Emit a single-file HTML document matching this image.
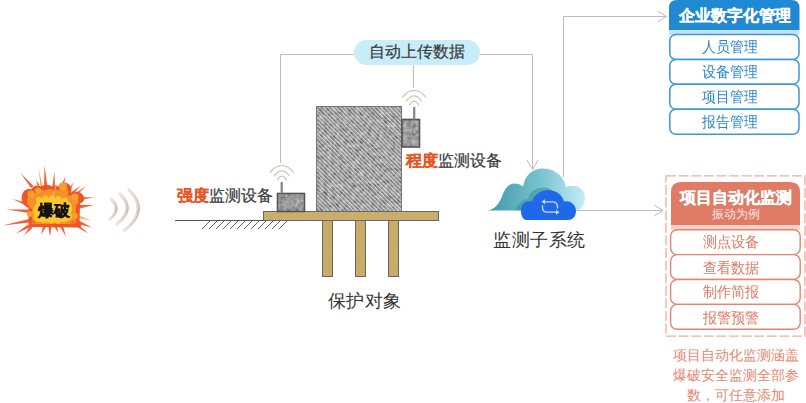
<!DOCTYPE html>
<html><head><meta charset="utf-8">
<style>
*{margin:0;padding:0;box-sizing:border-box}
html,body{width:806px;height:403px;overflow:hidden;background:#fff;font-family:"Liberation Sans",sans-serif}
.a{position:absolute;white-space:nowrap}
svg{position:absolute;left:0;top:0}
.t16{font-size:16px;line-height:16px;color:#3a3a3a;-webkit-text-stroke:0.2px #3a3a3a}
.red{color:#e9541f;font-weight:bold;-webkit-text-stroke:0.15px #e9541f}
.pill{left:354px;top:40px;width:126px;height:25px;border-radius:13px;background:#c7edf8}
.bt{left:669px;width:131px;padding-right:9px;transform:scaleY(1.08);transform-origin:50% 90%;text-align:center;color:#2a86d0;font-size:14.2px;line-height:15px}
.ot{left:670px;width:131px;padding-right:9px;transform:scaleY(1.06);transform-origin:50% 90%;text-align:center;color:#e07a64;font-size:14.2px;line-height:15px}
.bh{top:0;height:30px;background:#1e88d2;border-radius:8px 8px 0 0}
.bs{top:30px;height:5px;background:#c5e0f4}
.bi{height:25px;border:1.5px solid #3d97d8;border-radius:7px;background:#fff;color:#2a86d0;font-size:14.5px;line-height:22px;text-align:center;padding-right:8px}
.oh{left:671px;width:130px;top:182px;height:43px;background:#e07a64;border-radius:9px 9px 0 0}
.os{left:671px;width:130px;top:225px;height:5px;background:#f5cfc4}
.oi{left:670px;width:131px;height:25px;border:1.5px solid #e4836e;border-radius:7px;background:#fff;color:#e07a64;font-size:14.5px;line-height:22px;text-align:center;padding-right:8px}
</style></head><body>
<svg width="806" height="403" viewBox="0 0 806 403">
<defs>
<linearGradient id="cg" x1="0" x2="1" y1="0" y2="0">
<stop offset="0" stop-color="#3f98a8"/><stop offset="0.55" stop-color="#79c3d0"/><stop offset="1" stop-color="#c2eef6"/>
</linearGradient>
<pattern id="hatch" patternUnits="userSpaceOnUse" patternTransform="rotate(-45)" width="2.9" height="4">
<rect width="2.9" height="4" fill="#9c9c9c"/><rect width="1.2" height="4" fill="#565656"/><rect x="1.8" width="0.9" height="4" fill="#e8e8e8"/>
</pattern>
<filter id="noise" x="0" y="0" width="100%" height="100%">
<feTurbulence type="fractalNoise" baseFrequency="0.35" numOctaves="2" seed="3" result="n"/>
<feColorMatrix in="n" type="matrix" values="0 0 0 0 0.5  0 0 0 0 0.5  0 0 0 0 0.5  1.2 0 0 0 -0.35" result="g"/>
<feComposite in="g" in2="SourceGraphic" operator="in" result="gi"/>
<feBlend in="SourceGraphic" in2="gi" mode="overlay"/>
</filter>
<filter id="noise2" x="0" y="0" width="100%" height="100%">
<feTurbulence type="fractalNoise" baseFrequency="0.25" numOctaves="3" seed="11" result="n"/>
<feColorMatrix in="n" type="matrix" values="0 0 0 1.4 -0.2  0 0 0 1.4 -0.2  0 0 0 1.4 -0.2  0 0 0 0 0.35" result="g"/>
<feComposite in="g" in2="SourceGraphic" operator="in" result="gi"/>
<feMerge><feMergeNode in="SourceGraphic"/><feMergeNode in="gi"/></feMerge>
</filter>
<linearGradient id="wood" x1="0" x2="0" y1="0" y2="1">
<stop offset="0" stop-color="#cfae66"/><stop offset="1" stop-color="#c09a52"/>
</linearGradient>
<filter id="noise3" x="0" y="0" width="100%" height="100%">
<feTurbulence type="fractalNoise" baseFrequency="0.08 0.6" numOctaves="2" seed="5" result="n"/>
<feColorMatrix in="n" type="matrix" values="0 0 0 0 0.55  0 0 0 0 0.42  0 0 0 0 0.18  1.6 0 0 0 -0.55" result="g"/>
<feComposite in="g" in2="SourceGraphic" operator="in" result="gi"/>
<feMerge><feMergeNode in="SourceGraphic"/><feMergeNode in="gi"/></feMerge>
</filter>
<filter id="noise4" x="0" y="0" width="100%" height="100%">
<feTurbulence type="fractalNoise" baseFrequency="0.6 0.08" numOctaves="2" seed="9" result="n"/>
<feColorMatrix in="n" type="matrix" values="0 0 0 0 0.55  0 0 0 0 0.42  0 0 0 0 0.18  1.6 0 0 0 -0.55" result="g"/>
<feComposite in="g" in2="SourceGraphic" operator="in" result="gi"/>
<feMerge><feMergeNode in="SourceGraphic"/><feMergeNode in="gi"/></feMerge>
</filter>
</defs>
<!-- connector lines -->
<g fill="none" stroke="#bdbdbd" stroke-width="1">
<polyline points="280.5,163 280.5,54.5 354,54.5"/>
<polyline points="480,54.5 532.5,54.5 532.5,169"/>
<polyline points="527,160 532.5,169.5 538,160"/>
<line x1="413.5" y1="65" x2="413.5" y2="88"/>
<polyline points="563.5,177 563.5,16.5 666,16.5"/>
<polyline points="657.5,11 666.5,16.5 657.5,22"/>
<line x1="576" y1="210.5" x2="663" y2="210.5"/>
<polyline points="654,205 663,210.5 654,216"/>
</g>
<!-- ground -->
<line x1="175" y1="220.5" x2="264" y2="220.5" stroke="#555" stroke-width="1"/>
<g stroke="#555" stroke-width="0.9">
<line x1="202" y1="229" x2="210" y2="221"/><line x1="209" y1="229" x2="217" y2="221"/><line x1="216" y1="229" x2="224" y2="221"/>
<line x1="223" y1="229" x2="231" y2="221"/><line x1="230" y1="229" x2="238" y2="221"/><line x1="237" y1="229" x2="245" y2="221"/>
<line x1="244" y1="229" x2="252" y2="221"/><line x1="251" y1="229" x2="259" y2="221"/><line x1="258" y1="229" x2="266" y2="221"/>
<line x1="265" y1="229" x2="273" y2="221"/><line x1="272" y1="229" x2="280" y2="221"/><line x1="279" y1="229" x2="287" y2="221"/>
</g>
<!-- building -->
<rect x="316.5" y="106.5" width="85" height="105" fill="url(#hatch)" filter="url(#noise2)"/><rect x="316.5" y="106.5" width="85" height="105" fill="none" stroke="#777" stroke-width="1"/>
<!-- platform & pillars -->
<rect x="263.5" y="211.5" width="175" height="9" fill="#cdae68" filter="url(#noise3)"/>
<rect x="322.5" y="220.5" width="10" height="56" fill="#cbab64" filter="url(#noise4)"/>
<rect x="355.5" y="220.5" width="10" height="56" fill="#cbab64" filter="url(#noise4)"/>
<rect x="388.5" y="220.5" width="10" height="56" fill="#cbab64" filter="url(#noise4)"/>
<g fill="none" stroke="#666" stroke-width="1">
<rect x="263.5" y="211.5" width="175" height="9"/>
<rect x="322.5" y="220.5" width="10" height="56"/>
<rect x="355.5" y="220.5" width="10" height="56"/>
<rect x="388.5" y="220.5" width="10" height="56"/>
</g>
<!-- devices -->
<rect x="277.5" y="193.5" width="27" height="18" fill="#858585" filter="url(#noise2)"/><rect x="277.5" y="193.5" width="27" height="18" fill="none" stroke="#555" stroke-width="1.6"/>
<rect x="280.6" y="182" width="2.2" height="11.5" fill="#858585"/>
<g fill="none" stroke="#d2c6b4" stroke-width="1.3" stroke-linecap="round">
<path d="M270.5,172 Q281.8,158.8 293.3,172"/>
<path d="M274.3,175.8 Q281.8,166 289.3,175.8"/>
<path d="M277.3,179.8 Q281.8,172.6 286.3,179.8"/>
</g>
<rect x="402" y="119.5" width="17.5" height="27.5" fill="#858585" filter="url(#noise2)"/><rect x="402" y="119.5" width="17.5" height="27.5" fill="none" stroke="#555" stroke-width="1.6"/>
<rect x="413.1" y="107" width="2.2" height="12.5" fill="#858585"/>
<g fill="none" stroke="#d2c6b4" stroke-width="1.3" stroke-linecap="round">
<path d="M402.5,97 Q414.2,83.8 425.7,97"/>
<path d="M406.5,100.8 Q414.2,91 421.7,100.8"/>
<path d="M409.5,104.8 Q414.2,97.6 418.7,104.8"/>
</g>
<!-- sound waves -->
<defs><linearGradient id="sw" x1="0" x2="0" y1="0" y2="1"><stop offset="0" stop-color="#ebe6de"/><stop offset="0.5" stop-color="#c2b8a7"/><stop offset="1" stop-color="#ebe6de"/></linearGradient></defs>
<g fill="none" stroke="url(#sw)" stroke-width="3.2" stroke-linecap="round">
<path d="M111.3,199 Q121.5,209 110,219.2"/>
<path d="M119.8,194 Q136,209 116.8,224.2"/>
<path d="M128.8,189.6 Q150,210 124.3,230.6"/>
</g>
<g fill="none" stroke="#f4f1ec" stroke-width="0.9" stroke-linecap="round" opacity="0.8">
<path d="M111.8,202 Q119.5,209 111.2,216"/>
<path d="M120.6,197 Q134,209 118.5,221"/>
<path d="M129.6,193 Q148,210 126,227"/>
</g>
<!-- cloud back -->
<path d="M487,210.5 C496,209.5 499,203 502,196.5 C505,188 509,183.5 514,183.5 C518,183.5 521,184.5 523,186.5 C525,175 533,168.5 542,168.5 C555,168.5 564,176 566,187 C570,185.5 574,185.5 577,186.5 C582,188.5 585,192.5 585,197 C585,203 582,208 578,210.5 Z" fill="url(#cg)"/>
<path d="M515,210.5 C518,204 522,200 528,199 C530,190 540,186 548,188 C555,190 556,200 556,210.5 Z" fill="#3d8d9c" opacity="0.55"/>
<!-- cloud front -->
<path d="M527,220 C521,220 521,212 521,210 C521,204 526,200.5 532,201.5 C535,194 541,190 548,190 C556,190 562.5,195 564,201.5 C570.5,200 576,205 576,211 C576,217 572,220 568,220 Z" fill="#2068ea"/>
<g fill="none" stroke="#c9dcff" stroke-width="1.3" stroke-linecap="round" stroke-linejoin="round">
<path d="M544,201.8 L552.5,201.8 Q557.5,201.8 557.5,206.8 L557.5,208"/>
<path d="M556.5,212.2 L547.5,212.2 Q542.5,212.2 542.5,207.2 L542.5,206"/>
</g>
<g fill="#c9dcff"><path d="M541.5,201.8 L545,199.3 L545,204.3 Z"/><path d="M559.5,212.2 L556,209.7 L556,214.7 Z"/></g>
<!-- explosion -->
<g>
<g fill="#f0552a" opacity="0.92">
<path d="M20.5,173 L33.5,186 L31,188 Z"/>
<path d="M36,180 L39.5,185 L38,186 Z"/>
<path d="M44.5,165.5 L47.5,187 L44,187 Z"/>
<path d="M54.5,171.5 L55,188 L52,188 Z"/>
<path d="M65.5,176.5 L64,185 L61.5,184.5 Z"/>
<path d="M74,181.5 L70,191 L68,190 Z"/>
<path d="M81,185.5 L73,194 L71.5,192 Z"/>
<path d="M86,186 L76,196 L74.5,194 Z"/>
<path d="M94,197.5 L80,200 L80,197 Z"/>
<path d="M94,205 L78,209 L78,205 Z"/>
<path d="M92,227.5 L78,224 L79,220.5 Z"/>
<path d="M88,233.5 L77,227 L79,225 Z"/>
<path d="M66,236.5 L60,227 L63,226 Z"/>
<path d="M58,233 L54,226 L57,225.5 Z"/>
<path d="M50,237 L48.5,227 L51.5,227 Z"/>
<path d="M41,234.5 L43,226 L46,227 Z"/>
<path d="M24,235.5 L30,226 L32.5,228 Z"/>
<path d="M16,233.5 L28,224.5 L29.5,227.5 Z"/>
<path d="M2.5,225.5 L29,219 L29.5,222.5 Z"/>
<path d="M6,209.5 L29,209.5 L29,213 Z"/>
<path d="M12.5,199 L28,203 L27,206 Z"/>
</g>
<path d="M38.5,168 L44,194 L41.5,194.5 Z" fill="#f7a23a"/>
<path d="M92,221 L78,218 L78,215 Z" fill="#f7a23a" opacity="0.8"/>
<path d="M28.5,227 L28.5,208 C23,206 20.5,200 22,195 C23.5,190 28,188 31,189.5 C33,185.5 38,184.5 41,186.5 C44,184 49,184 52,186.5 C54,185 57,185 58.5,186.5 C59.5,182 66,181 69,184.5 C72,187 72,190 71,192.5 C75,190.5 80.5,191.5 82.5,194.5 C85.5,198 84.5,202 80,203.5 L79.5,222 C82,224 82,227.5 78,227.5 Z" fill="#f0552a"/>
<path d="M32,224 L32,209 C28,207 26,202 27.5,198.5 C29,194 33,192.5 35.5,193.5 C37,189.5 42,189 44.5,191 C47,188.5 52,188.5 55,191 C57,189 59,189 60.5,190.5 C61.5,187 66,186.5 67.5,189.5 C69,192 68.5,194 67.5,196 C71,194.5 76,195.5 77.5,198.5 C79.5,201.5 78,204 76,205 L75.5,220 C77,222 76,224 73,224 Z" fill="#f4912a"/>
<g fill="#f7a02e"><circle cx="31" cy="194" r="3.5"/><circle cx="38" cy="190.5" r="3"/><circle cx="63" cy="186.5" r="4"/><circle cx="75" cy="197" r="3.5"/><circle cx="30" cy="214" r="3"/><circle cx="75" cy="216" r="3"/></g>
<g fill="#f26426" opacity="0.7"><circle cx="33" cy="222" r="2.5"/><circle cx="73" cy="223" r="2.5"/></g>
<path d="M36,221 C33,221 33,217 34.5,215 C32.5,212 33,206 36.5,203.5 C37,199 43,197.5 47,199.5 C51,196.5 57,197 60,200 C64,198.5 69,200 70.5,203.5 C73,206 72.5,211 71,214 C73,216 72,220.5 68.5,220.5 C62,222.5 50,222.5 42,222 C40,222 38,221.5 36,221 Z" fill="#fdc62a"/>
<g fill="#fdc62a"><circle cx="39" cy="200" r="3"/><circle cx="45.5" cy="198.5" r="3"/><circle cx="52" cy="198.5" r="3"/><circle cx="58.5" cy="199" r="3"/><circle cx="65" cy="200.5" r="3"/><circle cx="37" cy="219" r="2.5"/><circle cx="44" cy="220.5" r="2.5"/><circle cx="51" cy="221" r="2.5"/><circle cx="58" cy="221" r="2.5"/><circle cx="65" cy="220" r="2.5"/></g>
<path d="M56,186 L51,203" stroke="#fcd84a" stroke-width="1" opacity="0.7"/>

</g>
</svg>
<div class="a" style="left:37.5px;top:202.5px;font-size:15.5px;line-height:16px;font-weight:900;color:#111;-webkit-text-stroke:0.4px #111;text-shadow:0 0 1.5px #ffe04a">爆破</div>
<div class="a pill"></div>
<div class="a t16" style="left:369px;top:44px">自动上传数据</div>
<div class="a t16" style="left:177px;top:188px"><span class="red">强度</span>监测设备</div>
<div class="a t16" style="left:406px;top:153px"><span class="red">程度</span>监测设备</div>
<div class="a" style="left:493px;top:231px;font-size:18px;line-height:18px;letter-spacing:0.6px;color:#333">监测子系统</div>
<div class="a" style="left:328px;top:292px;font-size:18px;line-height:18px;letter-spacing:0.4px;color:#333">保护对象</div>
<!-- top right panel -->
<svg width="806" height="403" style="position:absolute;left:0;top:0">
<path d="M669,30 L669,8 Q669,0 677,0 L791.5,0 Q799.5,0 799.5,8 L799.5,30 Z" fill="#1f89d3"/>
<rect x="669" y="30" width="130.5" height="5" fill="#c6e0f4"/>
<g fill="#fff" stroke="#3b99d9" stroke-width="1.5">
<rect x="669.8" y="34.5" width="129.2" height="24.9" rx="6"/>
<rect x="669.8" y="59.4" width="129.2" height="24.9" rx="6"/>
<rect x="669.8" y="84.3" width="129.2" height="24.9" rx="6"/>
<rect x="669.8" y="109.3" width="129.2" height="24.9" rx="6"/>
</g>
<rect x="666" y="175.8" width="139" height="160.4" fill="none" stroke="#f2ac9d" stroke-width="1.3" stroke-dasharray="10 2.6"/>
<path d="M671,225.2 L671,192 Q671,182 681,182 L790,182 Q800,182 800,192 L800,225.2 Z" fill="#e07b65"/>
<rect x="671" y="225.2" width="129" height="4.5" fill="#f6d3ca"/>
<g fill="#fff" stroke="#e6846f" stroke-width="1.4">
<rect x="670.6" y="229.7" width="129.6" height="24.9" rx="6.5"/>
<rect x="670.6" y="254.6" width="129.6" height="24.9" rx="6.5"/>
<rect x="670.6" y="279.5" width="129.6" height="24.9" rx="6.5"/>
<rect x="670.6" y="304.4" width="129.6" height="24.9" rx="6.5"/>
</g>
</svg>
<div class="a" style="left:669px;width:132px;top:8px;text-align:center;color:#fff;font-weight:bold;font-size:16px;line-height:16px;-webkit-text-stroke:0.25px #fff">企业数字化管理</div>
<div class="a bt" style="top:39.6px">人员管理</div>
<div class="a bt" style="top:65.2px">设备管理</div>
<div class="a bt" style="top:90.2px">项目管理</div>
<div class="a bt" style="top:115.2px">报告管理</div>
<div class="a" style="left:671px;width:130px;top:190px;text-align:center;color:#fff;font-weight:bold;font-size:16px;line-height:16px;-webkit-text-stroke:0.25px #fff">项目自动化监测</div>
<div class="a" style="left:671px;width:130px;top:208px;text-align:center;color:#fde8e2;font-size:12px;line-height:13px">振动为例</div>
<div class="a ot" style="top:235.4px">测点设备</div>
<div class="a ot" style="top:260.5px">查看数据</div>
<div class="a ot" style="top:285.3px">制作简报</div>
<div class="a ot" style="top:310.5px">报警预警</div>
<div class="a" style="left:666px;width:140px;top:345px;text-align:center;white-space:normal;color:#e6876f;font-size:14px;line-height:20.2px">项目自动化监测涵盖<br>爆破安全监测全部参<br>数，可任意添加</div>
</body></html>
